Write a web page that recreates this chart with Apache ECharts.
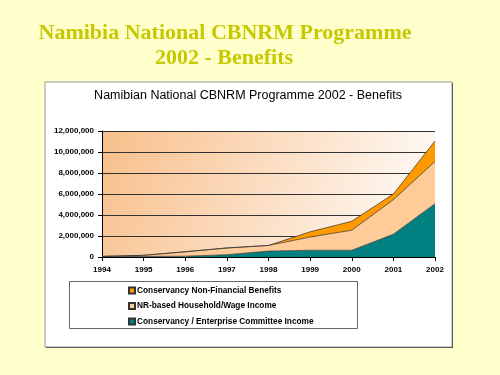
<!DOCTYPE html>
<html>
<head>
<meta charset="utf-8">
<script src="https://cdn.jsdelivr.net/npm/echarts@6/dist/echarts.min.js"></script>
<style>
  html, body { margin: 0; padding: 0; background: #FFFFCC; }
  #chart { width: 500px; height: 375px; }
</style>
</head>
<body>
<div id="chart"></div>
<script>
// categories
var years = ['1994', '1995', '1996', '1997', '1998', '1999', '2000', '2001', '2002'];
// series values (stacked)
var enterpriseIncome = [20000, 50000, 80000, 220000, 560000, 640000, 640000, 2170000, 5080000];
var householdIncome = [40000, 110000, 420000, 640000, 540000, 1260000, 1910000, 3290000, 4020000];
var nonFinancial = [0, 0, 0, 0, 0, 500000, 850000, 540000, 1950000];
// y tick values
var yMin = 0, yMax = 12000000, yStep = 2000000;

var seriesNames = [
  'Conservancy Non-Financial Benefits',
  'NR-based Household/Wage Income',
  'Conservancy / Enterprise Committee Income'
];

var chart = echarts.init(document.getElementById('chart'));

function areaSeries(name, data, color) {
  return {
    name: name,
    type: 'line',
    stack: 'total',
    data: data,
    symbol: 'none',
    silent: true,
    lineStyle: { color: '#333', width: 0.7 },
    areaStyle: { color: color, opacity: 1 },
    itemStyle: { color: color, borderColor: '#333', borderWidth: 1 }
  };
}

var serif = '"Liberation Serif", "Times New Roman", serif';
var sans = 'Arial, "Liberation Sans", sans-serif';

var option = {
  backgroundColor: '#FFFFCC',
  animation: false,
  graphic: [
    // outer slide title
    {
      type: 'text', x: 225, y: 33, z: 10,
      style: { text: 'Namibia National CBNRM Programme', font: 'bold 22px ' + serif, fill: '#C8C800', align: 'center', verticalAlign: 'middle' }
    },
    {
      type: 'text', x: 224, y: 58, z: 10,
      style: { text: '2002 - Benefits', font: 'bold 22px ' + serif, fill: '#C8C800', align: 'center', verticalAlign: 'middle' }
    },
    // chart box shadow and body
    { type: 'rect', shape: { x: 46, y: 83, width: 407, height: 265 }, style: { fill: '#222' }, z: -10 },
    { type: 'rect', shape: { x: 45, y: 82, width: 407, height: 265 }, style: { fill: '#fff', stroke: '#999', lineWidth: 1 }, z: -9 },
    // chart title
    {
      type: 'text', x: 248, y: 96, z: 10,
      style: { text: 'Namibian National CBNRM Programme 2002 - Benefits', font: '12.5px ' + sans, fill: '#000', align: 'center', verticalAlign: 'middle' }
    },
    // legend box
    { type: 'rect', shape: { x: 69.5, y: 281.5, width: 288, height: 47 }, style: { fill: '#fff', stroke: '#666', lineWidth: 1 }, z: -8 }
  ],
  legend: {
    data: seriesNames,
    orient: 'vertical',
    left: 123, top: 280,
    itemWidth: 6, itemHeight: 6, itemGap: 4.5,
    icon: 'rect',
    textStyle: { fontFamily: sans, fontSize: 8.3, fontWeight: 'bold', color: '#000', padding: [0, 0, 0, -3], lineHeight: 11 }
  },
  grid: {
    left: 102, right: 65, top: 131, bottom: 118,
    show: true,
    borderWidth: 0,
    backgroundColor: new echarts.graphic.LinearGradient(0, 0, 1, 1, [
      { offset: 0, color: '#F8BF8A' },
      { offset: 1, color: '#FFFFFF' }
    ])
  },
  xAxis: {
    type: 'category',
    data: years,
    boundaryGap: false,
    axisLine: { lineStyle: { color: '#000', width: 1 } },
    axisTick: { show: true, length: 4, lineStyle: { color: '#000' } },
    axisLabel: { fontFamily: sans, fontSize: 8, fontWeight: 'bold', color: '#000', margin: 9 },
    splitLine: { show: false }
  },
  yAxis: {
    type: 'value',
    min: yMin, max: yMax, interval: yStep,
    axisLine: { show: true, lineStyle: { color: '#000', width: 1 } },
    axisTick: { show: true, length: 4, lineStyle: { color: '#000' } },
    axisLabel: {
      fontFamily: sans, fontSize: 8, fontWeight: 'bold', color: '#000', margin: 8,
      formatter: function (v) { return v.toLocaleString('en-US'); }
    },
    splitLine: { show: true, lineStyle: { color: '#333', width: 1 } }
  },
  series: [
    areaSeries(seriesNames[2], enterpriseIncome, '#008080'),
    areaSeries(seriesNames[1], householdIncome, '#FFCC99'),
    areaSeries(seriesNames[0], nonFinancial, '#FF9900')
  ]
};

chart.setOption(option);
</script>
</body>
</html>
